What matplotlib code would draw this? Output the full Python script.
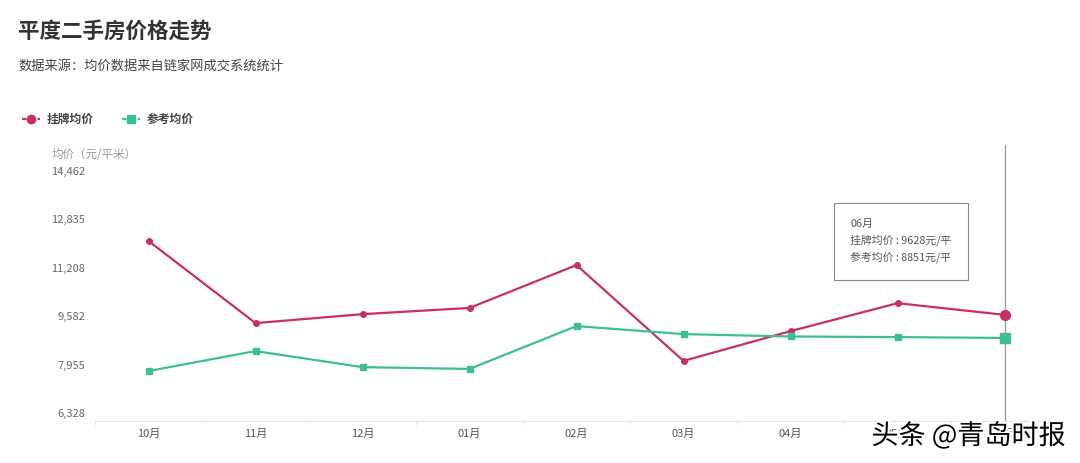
import matplotlib
matplotlib.use("Agg")
import matplotlib.pyplot as plt
import matplotlib.patheffects as pe
from matplotlib.ticker import FixedLocator

plt.rcParams['font.family'] = ['Noto Sans CJK SC', 'DejaVu Sans']

# Data
months = ["10月", "11月", "12月", "01月", "02月", "03月", "04月", "05月", "06月"]
listing_price = [12110, 9350, 9650, 9860, 11300, 8080, 9080, 10020, 9628]   # 挂牌均价
reference_price = [7740, 8410, 7870, 7810, 9250, 8980, 8900, 8880, 8851]   # 参考均价
y_ticks = [6328, 7955, 9582, 11208, 12835, 14462]

red = '#c9305e'
green = '#3cc08f'

fig = plt.figure(figsize=(10.8, 4.63), dpi=100)
ax = fig.add_axes([95/1080, 1-421/463, 963/1080, 250/463])

x = list(range(len(months)))
ax.plot(x, listing_price, color=red, lw=1.6, marker='o', ms=4, zorder=3)
ax.plot(x, reference_price, color=green, lw=1.6, marker='s', ms=4, zorder=3)
# highlighted hover point
ax.plot(x[-1], listing_price[-1], 'o', color=red, ms=7, zorder=4)
ax.plot(x[-1], reference_price[-1], 's', color=green, ms=7, zorder=4)

ax.set_xlim(-0.5, len(months) - 0.5)
ax.set_ylim(6060, 14462)
ax.set_yticks(y_ticks)
ax.set_yticklabels([f"{v:,}" for v in y_ticks])
ax.set_xticks(x)
ax.set_xticklabels(months)
ax.xaxis.set_minor_locator(FixedLocator([i - 0.5 for i in range(len(months) + 1)]))

for s in ['top', 'right', 'left']:
    ax.spines[s].set_visible(False)
ax.spines['bottom'].set_color('#e3e3e3')
ax.tick_params(axis='y', length=0, labelsize=8, colors='#666666', pad=7)
ax.tick_params(axis='x', which='major', length=0, labelsize=8, colors='#555555', pad=6)
ax.tick_params(axis='x', which='minor', length=3, color='#e3e3e3')

# crosshair at the hovered month
ax.axvline(x[-1], ymin=0, ymax=1.104, color='#999999', lw=0.9, clip_on=False, zorder=2)

# tooltip
tip = (f"{months[-1]}\n挂牌均价 : {listing_price[-1]}元/平\n"
       f"参考均价 : {reference_price[-1]}元/平")
fig.text(850/1080, 1-219/463, tip, fontsize=7.8, color='#555555', va='top',
         linespacing=1.6,
         bbox=dict(boxstyle='square,pad=1.5', fc='white', ec='#888888', lw=0.8))

# titles
fig.text(18/1080, 1-31/463, "平度二手房价格走势", fontsize=15.5, fontweight='bold',
         color='#333333', va='center')
fig.text(18/1080, 1-66/463, "数据来源：均价数据来自链家网成交系统统计", fontsize=9.5,
         color='#444444', va='center')
fig.text(52/1080, 1-154/463, "均价（元/平米）", fontsize=8.3, color='#999999', va='center')

# legend
for lx, col, mk, label in [(22, red, 'o', "挂牌均价"), (122, green, 's', "参考均价")]:
    fig.lines.append(plt.Line2D([lx/1080, (lx+18)/1080], [1-119/463, 1-119/463],
                                transform=fig.transFigure, color=col, lw=1.6,
                                ls=(0, (2, 1.5)), marker=None))
    fig.lines.append(plt.Line2D([(lx+9)/1080], [1-119/463], transform=fig.transFigure,
                                color=col, marker=mk, ms=6, lw=0))
    fig.text((lx+25)/1080, 1-119/463, label, fontsize=8.5, fontweight='bold',
             color='#444444', va='center')

# watermark
fig.text(1066/1080, 1-436/463, "头条 @青岛时报", fontsize=19.5, color='black',
         ha='right', va='center',
         path_effects=[pe.withStroke(linewidth=3, foreground='white')])

fig.savefig("out.png", dpi=100)
